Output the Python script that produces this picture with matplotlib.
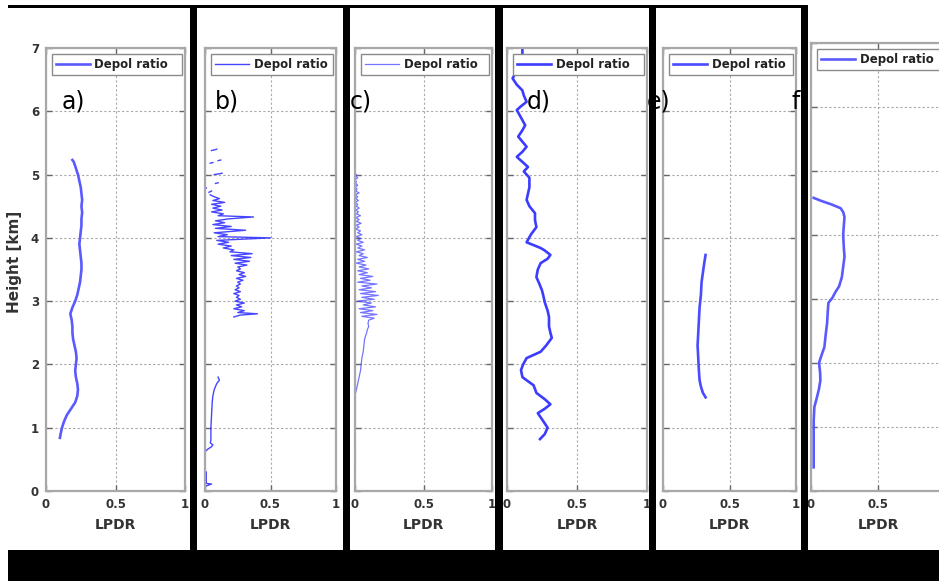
import numpy as np
import matplotlib
matplotlib.use("Agg")
import matplotlib.pyplot as plt
from matplotlib.patches import Rectangle

nan = np.nan

# ---------------- data (LPDR vs height in km) ----------------
a_h = [0.84, 0.9, 1.0, 1.1, 1.2, 1.3, 1.4, 1.5, 1.6, 1.7, 1.8, 1.9, 2.0, 2.1, 2.2, 2.3, 2.4, 2.5,
       2.6, 2.7, 2.8, 2.9, 3.0, 3.1, 3.2, 3.3, 3.4, 3.5, 3.6, 3.7, 3.8, 3.9, 4.0, 4.1, 4.2, 4.3,
       4.4, 4.5, 4.6, 4.7, 4.8, 4.9, 5.0, 5.1, 5.2, 5.23]
a_x = [0.10, 0.105, 0.115, 0.13, 0.15, 0.18, 0.21, 0.225, 0.23, 0.225, 0.215, 0.21, 0.215, 0.22,
       0.215, 0.205, 0.195, 0.19, 0.19, 0.185, 0.175, 0.19, 0.21, 0.225, 0.235, 0.245, 0.25, 0.255,
       0.255, 0.25, 0.245, 0.24, 0.245, 0.25, 0.255, 0.255, 0.26, 0.255, 0.26, 0.255, 0.25, 0.24,
       0.23, 0.215, 0.20, 0.19]

b_h = [0.08, 0.11, 0.12, 0.2, 0.3, nan,
       0.62, 0.66, 0.70, 0.73, 0.76, 0.80, 0.9, 1.0, 1.2, 1.4, 1.5, 1.6, 1.7, 1.75, 1.8, nan,
       2.75, 2.78, 2.80, 2.82, 2.85, 2.88, 2.91, 2.94, 2.97, 3.00, 3.03, 3.06, 3.09, 3.12, 3.15,
       3.18, 3.21, 3.24, 3.27, 3.30, 3.33, 3.36, 3.39, 3.42, 3.45, 3.48, 3.51, 3.54, 3.57, 3.60,
       3.63, 3.66, 3.69, 3.72, 3.75, 3.78, 3.81, 3.84, 3.87, 3.90, 3.93, 3.96, 4.00, 4.02, 4.05,
       4.08, 4.12, 4.15, 4.18, 4.21, 4.24, 4.27, 4.30, 4.33, 4.35, 4.38, 4.41, 4.44, 4.47, 4.50,
       4.53, 4.56, 4.59, 4.62, 4.65, 4.68, nan,
       4.72, 4.74, nan, 4.78, 4.79, nan, 4.86, 4.87, nan, 5.00, 5.02, nan, 5.18, 5.19, nan,
       5.22, 5.23, nan, 5.38, 5.40]
b_x = [0.01, 0.05, 0.01, 0.01, 0.01, nan,
       0.0, 0.02, 0.05, 0.06, 0.04, 0.045, 0.045, 0.045, 0.05, 0.055, 0.06, 0.07, 0.09, 0.11, 0.10, nan,
       0.22, 0.27, 0.40, 0.25, 0.30, 0.22, 0.28, 0.24, 0.30, 0.23, 0.27, 0.24, 0.26, 0.22, 0.27,
       0.23, 0.26, 0.24, 0.27, 0.25, 0.29, 0.24, 0.31, 0.26, 0.30, 0.24, 0.27, 0.25, 0.32, 0.23,
       0.34, 0.22, 0.35, 0.20, 0.36, 0.19, 0.22, 0.14, 0.20, 0.10, 0.18, 0.09, 0.50, 0.10, 0.17,
       0.07, 0.31, 0.08, 0.20, 0.06, 0.15, 0.08, 0.18, 0.37, 0.10, 0.14, 0.05, 0.13, 0.06, 0.12,
       0.05, 0.15, 0.06, 0.11, 0.07, 0.04, nan,
       0.03, 0.05, nan, 0.0, 0.01, nan, 0.08, 0.10, nan, 0.07, 0.13, nan, 0.04, 0.06, nan,
       0.10, 0.12, nan, 0.05, 0.09]

c_h = [0.41, 0.65, nan, 1.0, 1.54, 1.6, 1.7, 1.8, 1.9, 2.0, 2.1, 2.2, 2.3, 2.4, 2.5, 2.55, 2.6, 2.65,
       2.70, 2.73, 2.76, 2.79, 2.82, 2.85, 2.88, 2.91, 2.94, 2.97, 3.00, 3.03, 3.06, 3.09, 3.12,
       3.15, 3.18, 3.21, 3.24, 3.27, 3.30, 3.33, 3.36, 3.39, 3.42, 3.45, 3.48, 3.51, 3.54, 3.57,
       3.60, 3.63, 3.66, 3.69, 3.72, 3.75, 3.78, 3.81, 3.84, 3.87, 3.90, 3.93, 3.96, 3.99, 4.02,
       4.05, 4.08, 4.11, 4.14, 4.17, 4.20, 4.23, 4.26, 4.29, 4.32, 4.35, 4.38, 4.41, 4.44, 4.47,
       4.50, 4.53, 4.56, 4.59, 4.62, 4.65, 4.68, 4.71, 4.74, 4.77, 4.80, 4.83, 4.86, 4.89, 4.92,
       4.95, 4.98, 5.00]
c_x = [0.003, 0.003, nan, 0.003, 0.003, 0.01, 0.02, 0.03, 0.04, 0.045, 0.05, 0.06, 0.065, 0.07,
       0.085, 0.09, 0.10, 0.095,
       0.10, 0.14, 0.05, 0.16, 0.04, 0.13, 0.03, 0.15, 0.06, 0.12, 0.02, 0.14, 0.05, 0.17, 0.04,
       0.15, 0.03, 0.12, 0.05, 0.16, 0.02, 0.11, 0.04, 0.13, 0.03, 0.09, 0.02, 0.10, 0.03, 0.08,
       0.01, 0.07, 0.02, 0.09, 0.03, 0.06, 0.01, 0.07, 0.02, 0.05, 0.01, 0.06, 0.02, 0.04, 0.01,
       0.05, 0.02, 0.04, 0.005, 0.03, 0.01, 0.045, 0.01, 0.03, 0.005, 0.04, 0.01, 0.025, 0.005,
       0.03, 0.01, 0.02, 0.0, 0.025, 0.005, 0.02, 0.0, 0.03, 0.005, 0.015, 0.0, 0.02, 0.005, 0.01,
       0.0, 0.02, 0.005, 0.01]

d_h = [0.82, 0.9, 1.0, 1.1, 1.23, 1.3, 1.37, 1.45, 1.55, 1.67, 1.75, 1.8, 1.91, 2.0, 2.1, 2.2, 2.3,
       2.42, 2.5, 2.6, 2.75, 2.85, 2.98, 3.08, 3.17, 3.28, 3.38, 3.5, 3.6, 3.67, 3.73, 3.8, 3.84,
       3.93, 4.05, 4.17, 4.28, 4.39, 4.5, 4.6, 4.7, 4.8, 4.95, 5.05, 5.12, 5.2, 5.28, 5.36, 5.44,
       5.52, 5.6, 5.7, 5.78, 5.9, 6.02, 6.08, 6.15, 6.25, 6.33, 6.42, 6.52, 6.6, 6.75, 6.9, 7.0]
d_x = [0.236, 0.27, 0.29, 0.26, 0.22, 0.27, 0.31, 0.27, 0.21, 0.19, 0.14, 0.11, 0.10, 0.115, 0.14,
       0.24, 0.28, 0.32, 0.31, 0.30, 0.30, 0.29, 0.27, 0.26, 0.25, 0.23, 0.21, 0.22, 0.24, 0.29,
       0.31, 0.27, 0.24, 0.14, 0.17, 0.21, 0.20, 0.20, 0.16, 0.14, 0.15, 0.16, 0.16, 0.12, 0.15,
       0.11, 0.07, 0.11, 0.14, 0.11, 0.08, 0.11, 0.13, 0.10, 0.07, 0.10, 0.14, 0.12, 0.11, 0.07,
       0.04, 0.06, 0.09, 0.11, 0.11]

e_h = [1.48, 1.55, 1.65, 1.75, 1.9, 2.1, 2.3, 2.5, 2.7, 2.9, 3.1, 3.3, 3.45, 3.6, 3.73]
e_x = [0.32, 0.30, 0.285, 0.275, 0.27, 0.265, 0.26, 0.265, 0.27, 0.275, 0.285, 0.29, 0.30, 0.31, 0.32]

f_h = [0.37, 0.6, 0.9, 1.1, 1.31, 1.47, 1.6, 1.73, 1.85, 2.0, 2.1, 2.25, 2.45, 2.62, 2.8, 2.94,
       3.02, 3.1, 3.2, 3.34, 3.5, 3.66, 3.8, 4.0, 4.15, 4.28, 4.36, 4.42, 4.48, 4.53, 4.58]
f_x = [0.02, 0.02, 0.02, 0.02, 0.025, 0.045, 0.06, 0.07, 0.068, 0.06, 0.075, 0.10, 0.11, 0.12,
       0.125, 0.13, 0.16, 0.18, 0.21, 0.23, 0.24, 0.25, 0.245, 0.24, 0.245, 0.25, 0.24, 0.22,
       0.15, 0.08, 0.02]

panel_labels = ["a)", "b)", "c)", "d)", "e)", "f)"]
legend_label = "Depol ratio"
x_ticks = [0, 0.5, 1]
x_tick_labels = ["0", "0.5", "1"]
y_ticks = [0, 1, 2, 3, 4, 5, 6, 7]

# ---------------- layout ----------------
W, H = 939, 581
fig = plt.figure(figsize=(W / 100, H / 100), dpi=100)
fig.patch.set_facecolor("white")


def fx(px):
    return px / W


def fy(py):
    return 1 - py / H


# left, right, top, bottom in pixels
boxes = [(46, 185, 48, 491), (205, 336, 48, 491), (355, 492, 48, 491),
         (507, 647, 48, 491), (663, 796, 48, 491), (811, 945, 43, 491)]
series = [(a_x, a_h), (b_x, b_h), (c_x, c_h), (d_x, d_h), (e_x, e_h), (f_x, f_h)]
styles = [dict(color="#5a5aff", lw=1.9),
          dict(color="#2626ff", lw=1.0, alpha=0.85),
          dict(color="#4646ff", lw=0.9, alpha=0.75),
          dict(color="#3c3cff", lw=1.9),
          dict(color="#4a4aff", lw=1.9),
          dict(color="#5a5aff", lw=1.9)]
label_pos = [62, 215, 350, 527, 647, 792]

tick_font = dict(size=8.5, weight="bold")
for i, ((l, r, t, b), (xs, hs), st) in enumerate(zip(boxes, series, styles)):
    ax = fig.add_axes([fx(l), fy(b), (r - l) / W, (b - t) / H])
    ax.plot(xs, hs, label=legend_label, **st)
    ax.set_xlim(0, 1)
    ax.set_ylim(0, 7)
    ax.set_xticks(x_ticks)
    labels = list(x_tick_labels)
    if i == len(boxes) - 1:
        labels[-1] = ""   # lies beyond the image edge in the reference
    ax.set_xticklabels(labels, fontdict=tick_font, color="#333333")
    ax.set_yticks(y_ticks)
    if i == 0:
        ax.set_yticklabels([str(v) for v in y_ticks], fontdict=tick_font, color="#333333")
    else:
        ax.tick_params(axis="y", labelleft=False)
    ax.tick_params(direction="in", length=4, width=1, color="#666666",
                   top=True, right=True, pad=5)
    ax.grid(True, linestyle=(0, (2, 2)), color="#a8a8a8", lw=0.8)
    for sp in ax.spines.values():
        sp.set_color("#a8a8a8")
        sp.set_linewidth(1.6)
    ax.set_xlabel("LPDR", fontsize=10, fontweight="bold", color="#333333", labelpad=5)
    # legend box
    lx0 = (6) / (r - l)
    lw_ = (r - l - 9) / (r - l)
    ly0 = 1 - 6 / (b - t)
    leg = ax.legend(loc="upper left", bbox_to_anchor=(lx0, ly0, lw_, 0), mode="expand",
                    borderaxespad=0, fancybox=False, framealpha=1, edgecolor="#8a8a8a",
                    prop=dict(size=8.5, weight="bold"), labelcolor="#222222",
                    handlelength=2.9, handletextpad=0.35, borderpad=0.35)
    leg.get_frame().set_linewidth(1.0)
    fig.text(fx(label_pos[i]), fy(108), panel_labels[i], fontsize=17, color="black",
             ha="left", va="baseline", zorder=20)

fig.text(fx(15), fy(262), "Height [km]", rotation=90, ha="center", va="center",
         fontsize=11, fontweight="bold", color="#333333")

# black separators / frame pieces
black = []
black.append((8, 808, 5, 8))        # top line
for (x0, x1) in [(190, 197), (343, 350), (495, 503), (649, 656), (801, 808)]:
    black.append((x0, x1, 5, 550))
black.append((8, 939, 550, 581))    # bottom band
for (x0, x1, y0, y1) in black:
    fig.add_artist(Rectangle((fx(x0), fy(y1)), (x1 - x0) / W, (y1 - y0) / H,
                             transform=fig.transFigure, color="black", zorder=10, lw=0))

fig.savefig("out.png", dpi=100)
